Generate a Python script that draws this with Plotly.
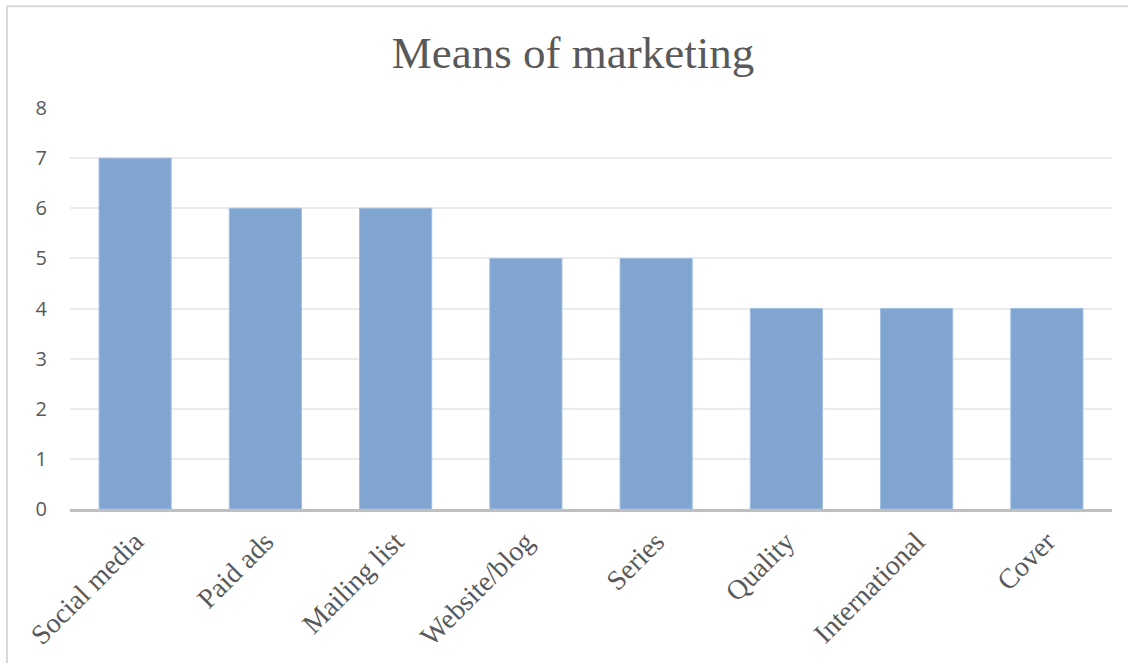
import plotly.graph_objects as go

# Marketing channels and their counts
categories = ["Social media", "Paid ads", "Mailing list", "Website/blog",
              "Series", "Quality", "International", "Cover"]
counts = [7, 6, 6, 5, 5, 4, 4, 4]
y_ticks = [0, 1, 2, 3, 4, 5, 6, 7, 8]

fig = go.Figure(
    go.Bar(
        x=categories,
        y=counts,
        marker=dict(color="rgb(128,165,208)", line=dict(color="rgb(160,190,225)", width=1)),
    )
)

fig.update_layout(
    width=1128,
    height=663,
    paper_bgcolor="white",
    plot_bgcolor="white",
    margin=dict(l=70, r=16, t=108, b=154),
    bargap=0.446,
    showlegend=False,
    title=dict(
        text="Means of marketing",
        x=0.508,
        xanchor="center",
        y=0.921,
        yanchor="middle",
        font=dict(family="Liberation Serif", size=45, color="#595959"),
    ),
    shapes=[
        # thin frame around the whole chart
        dict(type="rect", xref="paper", yref="paper",
             x0=-0.0605, x1=1.2, y0=-1.0, y1=1.254,
             line=dict(color="#D9D9D9", width=2), fillcolor="rgba(0,0,0,0)",
             layer="below"),
    ],
)

fig.update_xaxes(
    tickangle=-45,
    tickfont=dict(family="Liberation Serif", size=28, color="#595959"),
    showgrid=False,
    showline=True,
    linecolor="#BFBFBF",
    linewidth=3,
    ticks="",
    ticklabelstandoff=2,
    automargin=False,
)

fig.update_yaxes(
    range=[0, 8],
    tickvals=y_ticks,
    tickfont=dict(family="Open Sans", size=20, color="#595959"),
    showgrid=True,
    gridcolor="#EBEBEB",
    gridwidth=2,
    zeroline=False,
    showline=False,
    ticks="",
    ticklabelstandoff=22,
    automargin=False,
)

fig.write_html("out.html")
